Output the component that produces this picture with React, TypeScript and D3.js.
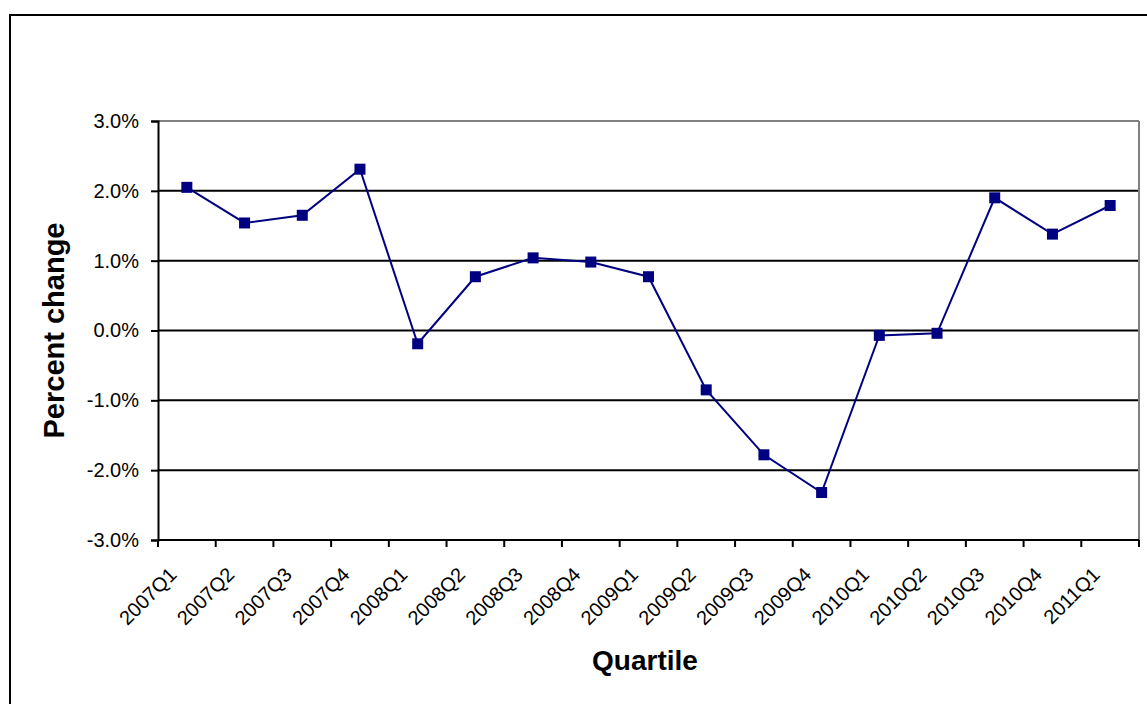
import React, { useEffect, useRef } from "react";
import * as d3 from "d3";

const quarters = [
  "2007Q1", "2007Q2", "2007Q3", "2007Q4",
  "2008Q1", "2008Q2", "2008Q3", "2008Q4",
  "2009Q1", "2009Q2", "2009Q3", "2009Q4",
  "2010Q1", "2010Q2", "2010Q3", "2010Q4",
  "2011Q1",
];

const percentChange = [
  2.05, 1.54, 1.65, 2.31,
  -0.19, 0.77, 1.04, 0.98,
  0.77, -0.85, -1.78, -2.32,
  -0.07, -0.04, 1.90, 1.38,
  1.79,
];

const yTicks = [-3, -2, -1, 0, 1, 2, 3];

const W = 1147;
const H = 704;
const left = 158;
const right = 1139;
const top = 121;
const bottom = 540;
const FONT = "'Liberation Sans', Arial, sans-serif";

const App = () => {
  const ref = useRef<SVGSVGElement>(null);

  useEffect(() => {
    const svg = d3.select(ref.current);
    svg.selectAll("*").remove();

    const x = d3.scaleBand().domain(quarters).range([left, right]);
    const y = d3.scaleLinear().domain([-3, 3]).range([bottom, top]);

    // outer chart border
    svg
      .append("rect")
      .attr("x", 10)
      .attr("y", 15)
      .attr("width", W + 20)
      .attr("height", H + 20)
      .attr("fill", "white")
      .attr("stroke", "black")
      .attr("stroke-width", 2);

    // gridlines
    svg
      .selectAll(".grid")
      .data(yTicks.filter((t) => t !== -3))
      .enter()
      .append("line")
      .attr("x1", left)
      .attr("x2", right)
      .attr("y1", (d) => y(d))
      .attr("y2", (d) => y(d))
      .attr("stroke", (d) => (d === 3 ? "#808080" : "black"))
      .attr("stroke-width", 2);

    // right plot border
    svg
      .append("line")
      .attr("x1", right)
      .attr("x2", right)
      .attr("y1", top)
      .attr("y2", bottom)
      .attr("stroke", "#808080")
      .attr("stroke-width", 2);

    // y axis
    const yAxis = svg
      .append("g")
      .attr("transform", `translate(${left},0)`)
      .call(
        d3
          .axisLeft(y)
          .tickValues(yTicks)
          .tickSize(7)
          .tickPadding(12)
          .tickFormat((d) => ((d as number) < 0 ? "-" : "") + Math.abs(d as number).toFixed(1) + "%")
      );
    yAxis.attr("font-size", null).attr("font-family", null);
    yAxis.select(".domain").attr("stroke", "black").attr("stroke-width", 2);
    yAxis.selectAll(".tick line").attr("stroke", "black").attr("stroke-width", 2);
    yAxis
      .selectAll(".tick text")
      .attr("fill", "black")
      .style("font-family", FONT)
      .style("font-size", "20px");

    // x axis with ticks at category boundaries
    const bounds = d3.range(quarters.length + 1).map((i) => left + i * x.step());
    svg
      .append("line")
      .attr("x1", left)
      .attr("x2", right)
      .attr("y1", bottom)
      .attr("y2", bottom)
      .attr("stroke", "black")
      .attr("stroke-width", 2);
    svg
      .selectAll(".xtick")
      .data(bounds)
      .enter()
      .append("line")
      .attr("x1", (d) => d)
      .attr("x2", (d) => d)
      .attr("y1", bottom)
      .attr("y2", bottom + 7)
      .attr("stroke", "black")
      .attr("stroke-width", 2);

    svg
      .selectAll(".xlabel")
      .data(quarters)
      .enter()
      .append("text")
      .attr("text-anchor", "end")
      .attr(
        "transform",
        (d) => `translate(${x(d)! + x.bandwidth() / 2 - 14},${bottom + 31}) rotate(-45)`
      )
      .attr("dy", "0.35em")
      .style("font-family", FONT)
      .style("font-size", "20px")
      .text((d) => d);

    // series line
    const line = d3
      .line<number>()
      .x((d, i) => x(quarters[i])! + x.bandwidth() / 2)
      .y((d) => y(d));
    svg
      .append("path")
      .datum(percentChange)
      .attr("d", line)
      .attr("fill", "none")
      .attr("stroke", "#000080")
      .attr("stroke-width", 2);

    svg
      .selectAll(".marker")
      .data(percentChange)
      .enter()
      .append("rect")
      .attr("x", (d, i) => x(quarters[i])! + x.bandwidth() / 2 - 5.5)
      .attr("y", (d) => y(d) - 5.5)
      .attr("width", 11)
      .attr("height", 11)
      .attr("fill", "#000080");

    // axis titles
    svg
      .append("text")
      .attr("x", 645)
      .attr("y", 670)
      .attr("text-anchor", "middle")
      .style("font-family", FONT)
      .style("font-size", "28px")
      .style("font-weight", "bold")
      .text("Quartile");

    svg
      .append("text")
      .attr("transform", `translate(64,${(top + bottom) / 2}) rotate(-90)`)
      .attr("text-anchor", "middle")
      .style("font-family", FONT)
      .style("font-size", "29px")
      .style("font-weight", "bold")
      .text("Percent change");
  }, []);

  return (
    <div style={{ position: "absolute", left: 0, top: 0 }}>
      <svg ref={ref} width={W} height={H} style={{ display: "block" }} />
    </div>
  );
};

export default App;
